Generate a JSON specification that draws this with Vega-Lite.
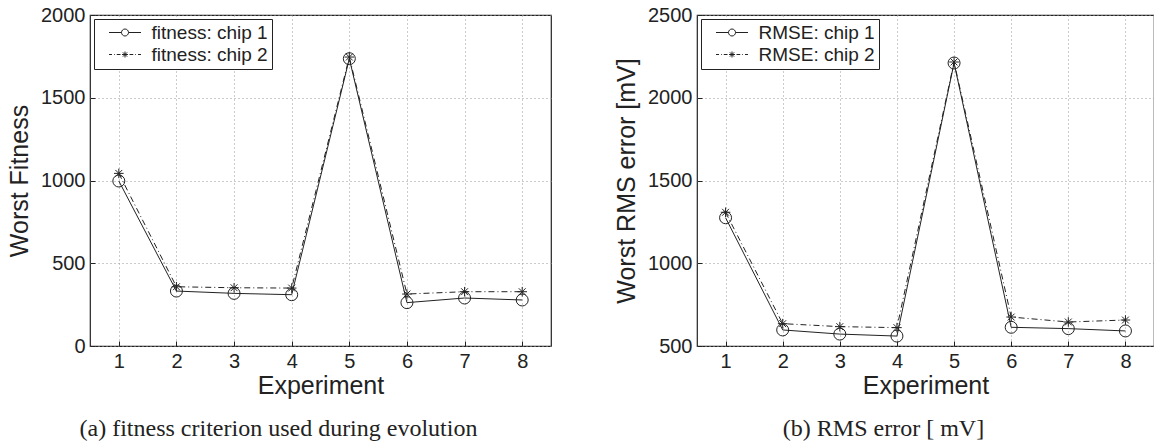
{
  "$schema": "https://vega.github.io/schema/vega-lite/v6.json",
  "padding": {"left": 6, "top": 4, "right": 0, "bottom": 0},
  "background": "white",
  "spacing": 61,
  "resolve": {"scale": {"shape": "independent"}, "legend": {"shape": "independent"}},
  "datasets": {
    "fitness": [
      {"exp": 1, "series": "fitness: chip 1", "value": 997},
      {"exp": 2, "series": "fitness: chip 1", "value": 332},
      {"exp": 3, "series": "fitness: chip 1", "value": 318},
      {"exp": 4, "series": "fitness: chip 1", "value": 310},
      {"exp": 5, "series": "fitness: chip 1", "value": 1736},
      {"exp": 6, "series": "fitness: chip 1", "value": 262},
      {"exp": 7, "series": "fitness: chip 1", "value": 290},
      {"exp": 8, "series": "fitness: chip 1", "value": 278},
      {"exp": 1, "series": "fitness: chip 2", "value": 1043},
      {"exp": 2, "series": "fitness: chip 2", "value": 358},
      {"exp": 3, "series": "fitness: chip 2", "value": 352},
      {"exp": 4, "series": "fitness: chip 2", "value": 350},
      {"exp": 5, "series": "fitness: chip 2", "value": 1746},
      {"exp": 6, "series": "fitness: chip 2", "value": 314},
      {"exp": 7, "series": "fitness: chip 2", "value": 328},
      {"exp": 8, "series": "fitness: chip 2", "value": 328}
    ],
    "rmse": [
      {"exp": 1, "series": "RMSE: chip 1", "value": 1275},
      {"exp": 2, "series": "RMSE: chip 1", "value": 597},
      {"exp": 3, "series": "RMSE: chip 1", "value": 572},
      {"exp": 4, "series": "RMSE: chip 1", "value": 560},
      {"exp": 5, "series": "RMSE: chip 1", "value": 2210},
      {"exp": 6, "series": "RMSE: chip 1", "value": 613},
      {"exp": 7, "series": "RMSE: chip 1", "value": 605},
      {"exp": 8, "series": "RMSE: chip 1", "value": 591},
      {"exp": 1, "series": "RMSE: chip 2", "value": 1308},
      {"exp": 2, "series": "RMSE: chip 2", "value": 635},
      {"exp": 3, "series": "RMSE: chip 2", "value": 617},
      {"exp": 4, "series": "RMSE: chip 2", "value": 611},
      {"exp": 5, "series": "RMSE: chip 2", "value": 2216},
      {"exp": 6, "series": "RMSE: chip 2", "value": 675},
      {"exp": 7, "series": "RMSE: chip 2", "value": 645},
      {"exp": 8, "series": "RMSE: chip 2", "value": 657}
    ]
  },
  "hconcat": [
    {
      "width": 461,
      "height": 331,
      "data": {"name": "fitness"},
      "title": {"text": "(a)  fitness criterion used during evolution", "orient": "bottom", "anchor": "middle", "dx": -42, "offset": 19, "font": "Liberation Serif", "fontSize": 24, "fontWeight": "normal", "color": "#222"},
      "encoding": {
        "x": {"field": "exp", "type": "quantitative", "scale": {"domain": [0.5, 8.5], "nice": false, "zero": false},
              "axis": {"title": "Experiment", "values": [1, 2, 3, 4, 5, 6, 7, 8], "format": "d"}},
        "y": {"field": "value", "type": "quantitative", "scale": {"domain": [0, 2000], "nice": false},
              "axis": {"title": "Worst Fitness", "values": [0, 500, 1000, 1500, 2000], "format": "d"}}
      },
      "layer": [
        {
          "transform": [{"filter": "datum.series === 'fitness: chip 1'"}],
          "mark": {"type": "line", "color": "#222", "strokeWidth": 1}
        },
        {
          "transform": [{"filter": "datum.series === 'fitness: chip 2'"}],
          "mark": {"type": "line", "color": "#222", "strokeWidth": 1, "strokeDash": [6, 3, 1, 3]}
        },
        {
          "transform": [{"filter": "datum.series === 'fitness: chip 1'"}],
          "mark": {"type": "point", "shape": "circle", "filled": false, "color": "#222", "strokeWidth": 1, "size": 144, "opacity": 1}
        },
        {
          "transform": [{"filter": "datum.series === 'fitness: chip 2'"}],
          "mark": {"type": "point", "shape": "M0,-0.8L0,0.8M-0.8,0L0.8,0M-0.57,-0.57L0.57,0.57M-0.57,0.57L0.57,-0.57", "filled": false, "color": "#222", "strokeWidth": 1, "size": 144, "opacity": 1}
        },
        {
          "mark": {"type": "point", "filled": false, "color": "#222", "strokeWidth": 1, "size": 100, "opacity": 0},
          "encoding": {
            "shape": {"field": "series", "type": "nominal",
                      "scale": {"domain": ["fitness: chip 1", "fitness: chip 2"], "range": ["M-3.2,0L-0.7,0M0.7,0L3.2,0M0.7,0A0.7,0.7,0,1,1,-0.7,0A0.7,0.7,0,1,1,0.7,0", "M-3.2,0L-2.6,0M-2.2,0L-2.05,0M-1.65,0L-0.9,0M0.9,0L1.65,0M2.05,0L2.2,0M2.6,0L3.2,0M0,-0.6L0,0.6M-0.6,0L0.6,0M-0.42,-0.42L0.42,0.42M-0.42,0.42L0.42,-0.42"]},
                      "legend": {"title": null, "orient": "top-left", "offset": 4,
                                 "labelExpr": "datum.label + '\u00a0\u00a0\u00a0'"}}
          }
        }
      ]
    },
    {
      "width": 457,
      "height": 331,
      "data": {"name": "rmse"},
      "title": {"text": "(b)  RMS error [ mV]", "orient": "bottom", "anchor": "middle", "dx": -42, "offset": 19, "font": "Liberation Serif", "fontSize": 24, "fontWeight": "normal", "color": "#222"},
      "encoding": {
        "x": {"field": "exp", "type": "quantitative", "scale": {"domain": [0.5, 8.5], "nice": false, "zero": false},
              "axis": {"title": "Experiment", "values": [1, 2, 3, 4, 5, 6, 7, 8], "format": "d"}},
        "y": {"field": "value", "type": "quantitative", "scale": {"domain": [500, 2500], "nice": false, "zero": false},
              "axis": {"title": "Worst RMS error [mV]", "values": [500, 1000, 1500, 2000, 2500], "format": "d"}}
      },
      "layer": [
        {
          "transform": [{"filter": "datum.series === 'RMSE: chip 1'"}],
          "mark": {"type": "line", "color": "#222", "strokeWidth": 1}
        },
        {
          "transform": [{"filter": "datum.series === 'RMSE: chip 2'"}],
          "mark": {"type": "line", "color": "#222", "strokeWidth": 1, "strokeDash": [6, 3, 1, 3]}
        },
        {
          "transform": [{"filter": "datum.series === 'RMSE: chip 1'"}],
          "mark": {"type": "point", "shape": "circle", "filled": false, "color": "#222", "strokeWidth": 1, "size": 144, "opacity": 1}
        },
        {
          "transform": [{"filter": "datum.series === 'RMSE: chip 2'"}],
          "mark": {"type": "point", "shape": "M0,-0.8L0,0.8M-0.8,0L0.8,0M-0.57,-0.57L0.57,0.57M-0.57,0.57L0.57,-0.57", "filled": false, "color": "#222", "strokeWidth": 1, "size": 144, "opacity": 1}
        },
        {
          "mark": {"type": "point", "filled": false, "color": "#222", "strokeWidth": 1, "size": 100, "opacity": 0},
          "encoding": {
            "shape": {"field": "series", "type": "nominal",
                      "scale": {"domain": ["RMSE: chip 1", "RMSE: chip 2"], "range": ["M-3.2,0L-0.7,0M0.7,0L3.2,0M0.7,0A0.7,0.7,0,1,1,-0.7,0A0.7,0.7,0,1,1,0.7,0", "M-3.2,0L-2.6,0M-2.2,0L-2.05,0M-1.65,0L-0.9,0M0.9,0L1.65,0M2.05,0L2.2,0M2.6,0L3.2,0M0,-0.6L0,0.6M-0.6,0L0.6,0M-0.42,-0.42L0.42,0.42M-0.42,0.42L0.42,-0.42"]},
                      "legend": {"title": null, "orient": "top-left", "offset": 4,
                                 "labelExpr": "datum.label + '\u00a0\u00a0\u00a0'"}}
          }
        }
      ]
    }
  ],
  "config": {
    "font": "Liberation Sans",
    "view": {"stroke": "#222", "strokeWidth": 1.2},
    "axis": {
      "labelFont": "Liberation Sans", "labelFontSize": 20, "labelColor": "#222",
      "titleFont": "Liberation Sans", "titleFontSize": 25, "titleFontWeight": "normal", "titleColor": "#222",
      "domain": false, "ticks": true, "tickSize": -5, "tickColor": "#222", "tickWidth": 1,
      "grid": true, "gridColor": "#999", "gridDash": [1, 3], "gridWidth": 1, "gridOpacity": 1
    },
    "axisX": {"labelPadding": 10, "titlePadding": 2, "labelFlush": false},
    "axisY": {"labelPadding": 10, "titlePadding": 8},
    "legend": {
      "strokeColor": "#222", "fillColor": "white", "padding": 4, "cornerRadius": 0,
      "labelFont": "Liberation Sans", "labelFontSize": 19, "labelColor": "#222",
      "symbolSize": 100, "symbolStrokeWidth": 1, "symbolStrokeColor": "#222", "symbolFillColor": "transparent", "symbolOpacity": 1,
      "symbolOffset": 17.5, "labelOffset": 17, "rowPadding": 2
    }
  }
}
